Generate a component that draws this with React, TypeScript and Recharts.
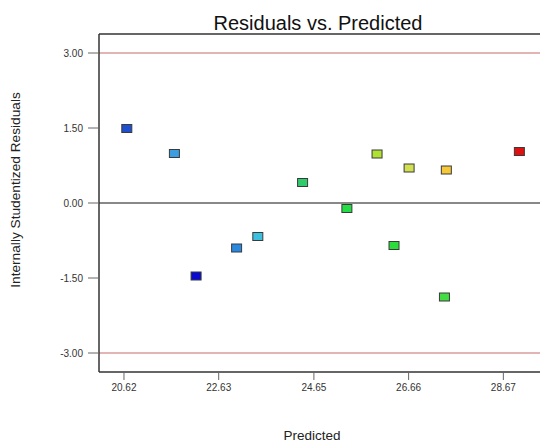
import React from 'react';
import {
  ScatterChart,
  Scatter,
  XAxis,
  YAxis,
  ReferenceLine,
} from 'recharts';

// values
const predicted = [20.68, 21.69, 22.15, 23.01, 23.46, 24.41, 25.35, 25.99, 26.35, 26.67, 27.46, 27.42, 29.01];
const residuals = [1.49, 0.99, -1.46, -0.9, -0.67, 0.41, -0.11, 0.98, -0.85, 0.7, 0.66, -1.88, 1.03];
const pointColors = [
  '#1f4fcf', '#3a9ee0', '#0a0ad0', '#2a88e0', '#3cc0e0', '#2ecc6a', '#22dd44',
  '#b0e030', '#2add3a', '#d0e050', '#f5c83a', '#44dd44', '#e01010',
];
const xTicks = [20.62, 22.63, 24.65, 26.66, 28.67];
const yTicks = [-3, -1.5, 0, 1.5, 3];
const limits = [3, -3];

const X_MIN = 20.09;
const X_MAX = 29.66;
const Y_MIN = -3.38;
const Y_MAX = 3.38;

const FONT = '"Liberation Sans", Arial, sans-serif';

const data = predicted.map((x, i) => ({ x, y: residuals[i], color: pointColors[i] }));

// little square marker with a dark border
const Marker = (props: any) => {
  const { cx, cy, payload } = props;
  if (cx == null || cy == null) return null;
  return (
    <rect
      x={cx - 5}
      y={cy - 4}
      width={10}
      height={8}
      fill={payload.color}
      stroke="#3a3a3a"
      strokeWidth={1}
    />
  );
};

const App: React.FC = () => {
  return (
    <div
      style={{
        position: 'fixed',
        left: 0,
        top: 0,
        width: 540,
        height: 442,
        overflow: 'hidden',
        background: '#fff',
      }}
    >
      <ScatterChart
        width={550}
        height={442}
        margin={{ top: 34, right: 0, left: 0, bottom: 0 }}
        style={{ fontFamily: FONT }}
      >
        <XAxis
          type="number"
          dataKey="x"
          domain={[X_MIN, X_MAX]}
          ticks={xTicks}
          tickFormatter={(v: number) => v.toFixed(2)}
          height={70}
          tickSize={8}
          tickMargin={4}
          allowDataOverflow
          axisLine={{ stroke: '#333', strokeWidth: 1.5 }}
          tickLine={{ stroke: '#666' }}
          tick={{ fontSize: 10, fill: '#333', fontFamily: FONT }}
        />
        <YAxis
          type="number"
          dataKey="y"
          domain={[Y_MIN, Y_MAX]}
          ticks={yTicks}
          tickFormatter={(v: number) => v.toFixed(2)}
          width={99}
          tickSize={11}
          tickMargin={5}
          allowDataOverflow
          axisLine={{ stroke: '#333', strokeWidth: 1.5 }}
          tickLine={{ stroke: '#666' }}
          tick={{ fontSize: 10, fill: '#333', fontFamily: FONT }}
        />
        <ReferenceLine y={Y_MAX} stroke="#333" strokeWidth={1.5} />
        {limits.map((v) => (
          <ReferenceLine key={v} y={v} stroke="#c86a6a" strokeWidth={1.2} />
        ))}
        <ReferenceLine y={0} stroke="#888" strokeWidth={2} />
        <Scatter data={data} shape={<Marker />} isAnimationActive={false} />
        <text
          x={318}
          y={30}
          textAnchor="middle"
          fontSize={20}
          fill="#111"
          fontFamily={FONT}
        >
          Residuals vs. Predicted
        </text>
        <text
          x={312}
          y={440}
          textAnchor="middle"
          fontSize={13.5}
          fill="#222"
          fontFamily={FONT}
        >
          Predicted
        </text>
        <text
          x={20}
          y={190}
          textAnchor="middle"
          fontSize={13.7}
          fill="#222"
          fontFamily={FONT}
          transform="rotate(-90 20 190)"
        >
          Internally Studentized Residuals
        </text>
      </ScatterChart>
    </div>
  );
};

export default App;
